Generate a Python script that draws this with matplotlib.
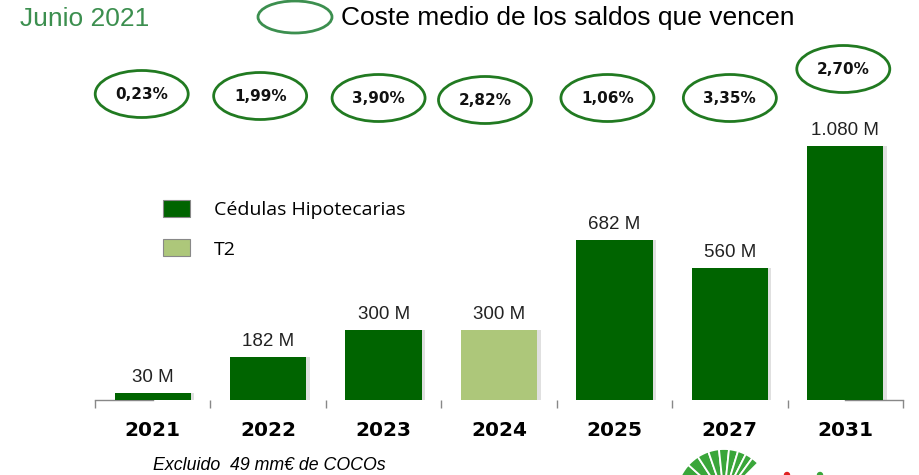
import numpy as np
import matplotlib
matplotlib.use("Agg")
import matplotlib.pyplot as plt
from matplotlib.patches import Ellipse, Patch, Wedge, Circle
import matplotlib.patheffects as pe

# vencimientos por año (millones de euros)
anios = ["2021", "2022", "2023", "2024", "2025", "2027", "2031"]
importes = [30, 182, 300, 300, 682, 560, 1080]
tipo = ["CH", "CH", "CH", "T2", "CH", "CH", "CH"]
etiquetas = ["30 M", "182 M", "300 M", "300 M", "682 M", "560 M", "1.080 M"]
costes = ["0,23%", "1,99%", "3,90%", "2,82%", "1,06%", "3,35%", "2,70%"]

verde = "#006400"
verde_claro = "#adc77a"
colores = {"CH": verde, "T2": verde_claro}

fig = plt.figure(figsize=(9.2, 4.75), dpi=100)

# ejes principales: base en y=400 px, de x=95 a x=903 px
ax = fig.add_axes([95/920, 75/475, 808/920, 355/475])
ax.set_xlim(-0.5, 6.5)
ax.set_ylim(0, 1511)
ax.patch.set_alpha(0)

x = np.arange(len(anios))
sombra = [pe.SimplePatchShadow(offset=(2.5, 0), shadow_rgbFace="#999999", alpha=0.3), pe.Normal()]
barras = ax.bar(x, importes, width=0.66, color=[colores[t] for t in tipo], zorder=3)
for b in barras:
    b.set_path_effects(sombra)

for xi, v, et in zip(x, importes, etiquetas):
    ax.annotate(et, (xi, v), xytext=(0, 5), textcoords="offset points",
                ha="center", va="bottom", fontsize=13.5, color="#222222",
                family="Liberation Sans")

# elipses con el coste medio
dx_px = [-11, -8, -5, -14, -7, 0, -2]
y_px = [94, 96, 98, 100, 98, 98, 69]
px_x = 808 / 7
px_y = 355 / 1511
for xi, c, dx, yp in zip(x, costes, dx_px, y_px):
    cx = xi + dx / px_x
    cy = (400 - yp) / px_y
    ax.add_patch(Ellipse((cx, cy), 93 / px_x, 47 / px_y, facecolor="white",
                         edgecolor="#217a21", lw=2, clip_on=False, zorder=4))
    ax.text(cx, cy, c, ha="center", va="center", fontsize=11,
            fontweight="bold", color="#111111", family="DejaVu Sans", zorder=5)

# ejes: solo marcas entre categorías y trozos de línea en los extremos
for s in ax.spines.values():
    s.set_visible(False)
ax.set_yticks([])
ax.set_xticks(x)
ax.set_xticklabels(anios, fontsize=14.5, fontweight="bold", family="DejaVu Sans")
ax.tick_params(axis="x", which="major", length=0, pad=15)
ax.set_xticks(np.arange(-0.5, 7, 1), minor=True)
ax.tick_params(axis="x", which="minor", length=6, color="#888888", width=1)
ax.plot([-0.5, 0.0], [0, 0], color="#888888", lw=1, clip_on=False, zorder=2)
ax.plot([6.0, 6.5], [0, 0], color="#888888", lw=1, clip_on=False, zorder=2)

ax.legend(handles=[Patch(facecolor=verde, edgecolor="#888888", lw=0.8, label="Cédulas Hipotecarias"),
                   Patch(facecolor=verde_claro, edgecolor="#888888", lw=0.8, label="T2")],
          loc="upper left", bbox_to_anchor=(163/920, 1 - 200/475), bbox_transform=fig.transFigure,
          frameon=False, borderpad=0, borderaxespad=0,
          handlelength=1.4, handleheight=0.95, handletextpad=1.2, labelspacing=1.05,
          prop={"family": "Open Sans", "size": 14})

# capa en píxeles para cabecera, nota y logo
top = fig.add_axes([0, 0, 1, 1], zorder=-1)
top.set_xlim(0, 920)
top.set_ylim(475, 0)
top.axis("off")

top.text(20, 19, "Junio 2021", fontsize=19, color="#3c8f4f", va="center",
         family="Liberation Sans")
top.add_patch(Ellipse((295, 17), 74, 32, facecolor="white", edgecolor="#3c8f4f", lw=2))
top.text(341, 18, "Coste medio de los saldos que vencen", fontsize=19, color="black",
         va="center", family="Liberation Sans")
top.text(153, 465, "Excluido  49 mm€ de COCOs", fontsize=12.8, style="italic",
         va="center", family="Liberation Sans")

# abanico del logo (eje y invertido: ángulos hacia abajo en datos)
for a0, da in zip([205, 222, 237, 251, 264, 276, 287, 297, 306],
                  [17, 15, 14, 13, 12, 11, 10, 9, 9]):
    top.add_patch(Wedge((724, 497), 48, a0, a0 + da, facecolor="#3aa63a",
                        edgecolor="white", lw=1.3))
top.add_patch(Circle((787, 475), 2.5, color="#e02020"))
top.add_patch(Circle((820, 475), 2.5, color="#3aa63a"))

fig.savefig("out.png", dpi=100)
